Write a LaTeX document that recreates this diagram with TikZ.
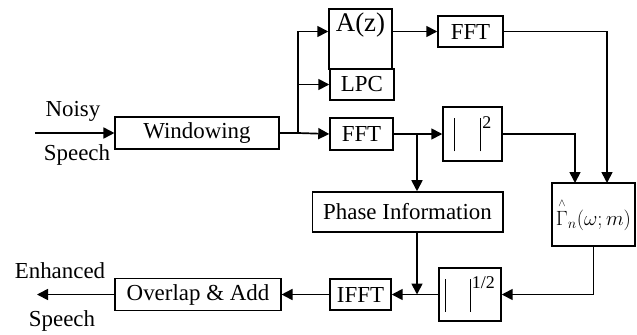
\documentclass[tikz,border=0pt]{standalone}
\usepackage{amsmath}
\usepackage{fontspec}
\setmainfont{Liberation Serif}
\usepackage{tikz}
\usetikzlibrary{arrows.meta}

\newcommand{\magbar}{\rule[-12bp]{0.9bp}{33bp}}

\begin{document}
\begin{tikzpicture}[x=1bp,y=-1bp,line width=1.7bp,>={Triangle[length=11bp,width=11bp]},
  blk/.style={draw,rectangle,inner sep=0pt,font=\fontsize{23}{26}\selectfont},
  txt/.style={inner sep=0pt,font=\fontsize{23}{26}\selectfont}]
\useasboundingbox (0,0) rectangle (637,334);
\node[blk,minimum width=164,minimum height=32] (win) at (197,133) {Windowing};
\node[blk,minimum width=63,minimum height=60,label={[txt,anchor=north,yshift=-4,font=\fontsize{27}{30}\selectfont]north:A(z)}] (az) at (360.5,39) {};
\node[blk,minimum width=64,minimum height=31] (lpc) at (362,84.5) {LPC};
\node[blk,minimum width=65,minimum height=31] (ffta) at (470.5,31.5) {FFT};
\node[blk,minimum width=63,minimum height=32] (fftb) at (361.5,134) {FFT};
\node[blk,minimum width=59,minimum height=54] (sq) at (472.5,134) {\magbar\hspace{25bp}\magbar\hspace{2bp}\raisebox{11bp}{\fontsize{18}{18}\selectfont 2}};
\node[blk,minimum width=191,minimum height=40] (phase) at (407.5,212) {Phase Information};
\node[blk,minimum width=83,minimum height=63,font=\fontsize{21}{24}\selectfont] (gam) at (593.5,214.5) {$\overset{\scriptscriptstyle\wedge}{\Gamma}_{n}(\omega;m)$};
\node[blk,minimum width=62,minimum height=53] (rt) at (470,294.5) {\magbar\hspace{24bp}\magbar\hspace{1bp}\raisebox{11bp}{\fontsize{18}{18}\selectfont 1/2}};
\node[blk,minimum width=61,minimum height=31] (ifft) at (360.5,294.5) {IFFT};
\node[blk,minimum width=166,minimum height=32] (ola) at (198,294.5) {Overlap \& Add};
\node[txt] (noisy) at (73,111) {Noisy};
\node[txt] (spin) at (77,155) {Speech};
\node[txt] (enh) at (60,271) {Enhanced};
\node[txt] (spout) at (62,321) {Speech};
\coordinate (in) at (35,133);
\coordinate (sp) at (298,133);
\coordinate (br) at (417,134);
\coordinate (out) at (37,294.5);
\draw[->] (in) -- (win.west);
\draw (win.east) -- (sp);
\draw[->] (sp) -- (fftb.west);
\draw[->] (sp) |- (lpc.west);
\draw[->] (sp) |- (az.west |- ffta.west);
\draw[->] (az.east |- ffta.west) -- (ffta.west);
\draw[->] (ffta.east) -| (607,183);
\draw[->] (fftb.east) -- (sq.west);
\draw[->] (sq.east) -| (575,183);
\draw[->] (br) -- (br |- phase.north);
\draw[->] (gam.south) |- (rt.east);
\draw[->] (rt.west) -- (ifft.east);
\draw[->] (br |- phase.south) -- (br |- rt.west);
\draw[->] (ifft.west) -- (ola.east);
\draw[->] (ola.west) -- (out);
\end{tikzpicture}
\end{document}
